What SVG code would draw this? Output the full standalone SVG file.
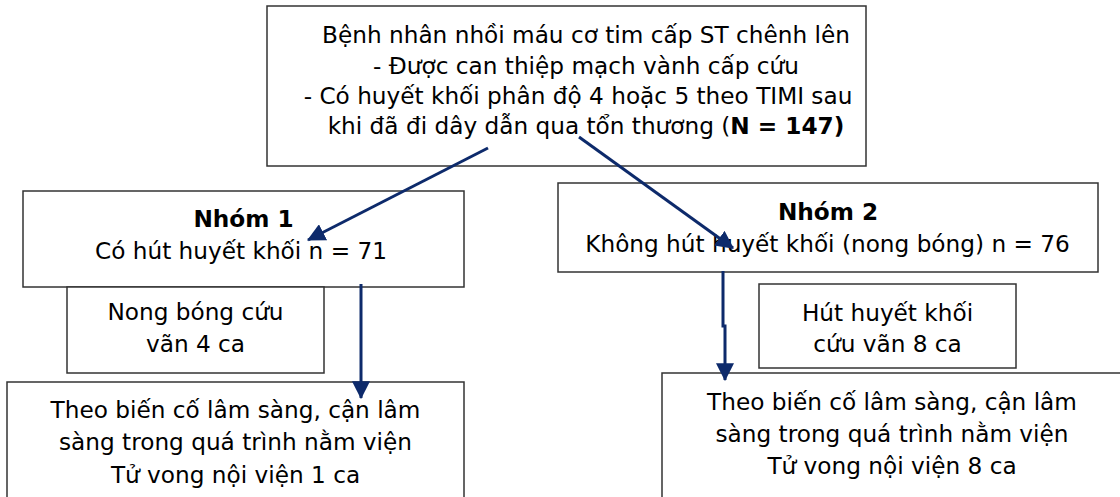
<svg xmlns="http://www.w3.org/2000/svg" width="1120" height="497" viewBox="0 0 1120 497">
  <style>
    .box { fill: #ffffff; stroke: #333333; stroke-width: 1.5; }
    .t { font-family: "DejaVu Sans", Verdana, sans-serif; font-size: 23.2px; fill: #000000; text-anchor: middle; }
    .b { font-weight: bold; }
    .link { fill: none; stroke: #0d2a6b; stroke-width: 3; }
  </style>
  <defs>
    <marker id="head" markerUnits="userSpaceOnUse" markerWidth="18" markerHeight="18" viewBox="0 0 16 16" refX="15" refY="8" orient="auto">
      <path d="M0,0 L16,8 L0,16 Z" fill="#0d2a6b"/>
    </marker>
  </defs>
  <rect width="1120" height="497" fill="#ffffff"/>

  <!-- study population -->
  <g id="population">
    <rect class="box" x="267" y="6" width="599" height="160"/>
    <text class="t" x="586" y="43">Bệnh nhân nhồi máu cơ tim cấp ST chênh lên</text>
    <text class="t" x="586" y="74">- Được can thiệp mạch vành cấp cứu</text>
    <text class="t" x="578" y="104">- Có huyết khối phân độ 4 hoặc 5 theo TIMI sau</text>
    <text class="t" x="586" y="134">khi đã đi dây dẫn qua tổn thương (<tspan class="b">N = 147)</tspan></text>
  </g>

  <!-- group 1: aspiration -->
  <g id="group1">
    <rect class="box" x="23" y="191" width="441" height="96"/>
    <text class="t b" x="243.5" y="227">Nhóm 1</text>
    <text class="t" x="241" y="259">Có hút huyết khối n = 71</text>
  </g>

  <g id="rescue1">
    <rect class="box" x="67" y="287" width="257" height="86"/>
    <text class="t" x="195.5" y="320">Nong bóng cứu</text>
    <text class="t" x="195.5" y="352">vãn 4 ca</text>
  </g>

  <g id="outcome1">
    <rect class="box" x="7" y="382" width="457" height="130"/>
    <text class="t" x="235.5" y="418">Theo biến cố lâm sàng, cận lâm</text>
    <text class="t" x="235.5" y="450">sàng trong quá trình nằm viện</text>
    <text class="t" x="235.5" y="483">Tử vong nội viện 1 ca</text>
  </g>

  <!-- group 2: balloon only -->
  <g id="group2">
    <rect class="box" x="558" y="183" width="540" height="89"/>
    <text class="t b" x="828" y="219.5">Nhóm 2</text>
    <text class="t" x="827.5" y="252">Không hút huyết khối (nong bóng) n = 76</text>
  </g>

  <g id="rescue2">
    <rect class="box" x="759" y="284" width="257" height="84"/>
    <text class="t" x="887.5" y="320.5">Hút huyết khối</text>
    <text class="t" x="887.5" y="352">cứu vãn 8 ca</text>
  </g>

  <g id="outcome2">
    <rect class="box" x="662" y="373" width="470" height="140"/>
    <text class="t" x="892" y="410">Theo biến cố lâm sàng, cận lâm</text>
    <text class="t" x="892" y="442">sàng trong quá trình nằm viện</text>
    <text class="t" x="892" y="474">Tử vong nội viện 8 ca</text>
  </g>

  <!-- connectors -->
  <g id="connectors">
    <path class="link" d="M488,148 L308,240" marker-end="url(#head)"/>
    <path class="link" d="M579,137 L733,248" marker-end="url(#head)"/>
    <path class="link" d="M361,284 L361,398" marker-end="url(#head)"/>
    <path class="link" d="M723,271 L723,326 L725,326 L725,380" marker-end="url(#head)"/>
  </g>
</svg>
